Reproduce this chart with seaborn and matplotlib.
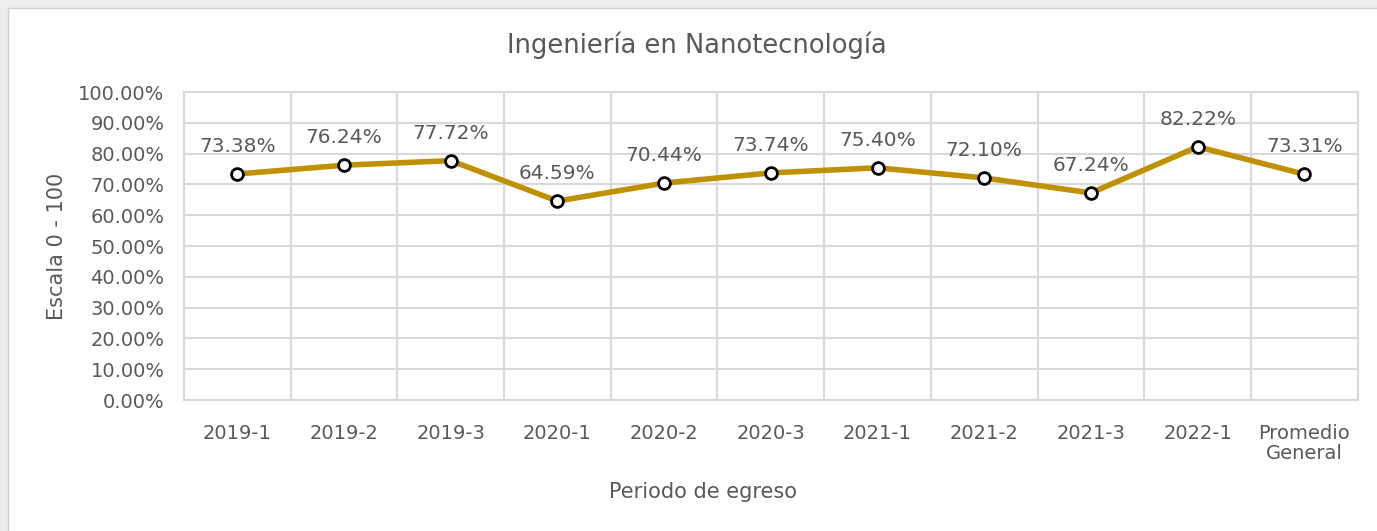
import numpy as np
import pandas as pd
import seaborn as sns
import matplotlib.pyplot as plt
from matplotlib.ticker import PercentFormatter, MultipleLocator
from matplotlib.patches import Rectangle

# datos
periodos = ['2019-1', '2019-2', '2019-3', '2020-1', '2020-2', '2020-3',
            '2021-1', '2021-2', '2021-3', '2022-1', 'Promedio\nGeneral']
valores = [0.7338, 0.7624, 0.7772, 0.6459, 0.7044, 0.7374,
           0.7540, 0.7210, 0.6724, 0.8222, 0.7331]

df = pd.DataFrame({'Periodo': periodos, 'Valor': valores})

sns.set_style('white')
plt.rcParams['font.family'] = ['DejaVu Sans']
gris = '#595959'
rejilla = '#d9d9d9'

fig, ax = plt.subplots(figsize=(13.77, 5.31), dpi=100)
fig.subplots_adjust(left=0.1336, right=0.986, top=0.8267, bottom=0.2467)

sns.lineplot(data=df, x='Periodo', y='Valor', sort=False, color='#BF9000',
             linewidth=4, marker='o', markersize=8.5, markerfacecolor='white',
             markeredgecolor='black', markeredgewidth=2, ax=ax, zorder=3)

# etiquetas de datos
for i, v in enumerate(df['Valor']):
    ax.annotate(f'{v*100:.2f}%', (i, v), xytext=(0, 13), textcoords='offset points',
                ha='center', va='bottom', fontsize=14.5, color=gris)

ax.set_xlim(-0.5, len(periodos) - 0.5)
ax.set_ylim(0, 1)
ax.yaxis.set_major_locator(MultipleLocator(0.1))
ax.yaxis.set_major_formatter(PercentFormatter(1, decimals=2))
ax.set_xticks(range(len(periodos)))
ax.set_xticklabels(periodos, linespacing=1.1)
ax.set_xticks(np.arange(-0.5, len(periodos), 1), minor=True)

ax.grid(axis='y', which='major', color=rejilla, linewidth=1.5)
ax.grid(axis='x', which='minor', color=rejilla, linewidth=1.5)
ax.set_axisbelow(True)
for s in ax.spines.values():
    s.set_color(rejilla)
    s.set_linewidth(1.5)

ax.tick_params(axis='both', which='both', length=0, labelsize=14, labelcolor=gris)
ax.tick_params(axis='x', pad=17)
ax.tick_params(axis='y', pad=14)

# titulo y etiqueta x van centrados en la figura, no en el eje
fig.text(697/1377, 1 - 45/531, 'Ingeniería en Nanotecnología', fontsize=18.5,
         color=gris, ha='center', va='center')
ax.set_xlabel('Periodo de egreso', fontsize=15, color=gris)
ax.xaxis.set_label_coords((703 - 184) / 1174, (400 - 492) / 308)
ax.get_xaxis().label.set_va('center')
ax.set_ylabel('Escala 0 - 100', fontsize=15, color=gris, labelpad=8)

# marco exterior gris de la captura
fig.patches.append(Rectangle((0, 1 - 8/531), 1, 8/531, transform=fig.transFigure,
                             facecolor='#eeeeee', edgecolor='none', zorder=-1))
fig.patches.append(Rectangle((0, 0), 8/1377, 1, transform=fig.transFigure,
                             facecolor='#eeeeee', edgecolor='none', zorder=-1))
fig.patches.append(Rectangle((8/1377, -0.01), 1, 1 - 8/531 + 0.01, transform=fig.transFigure,
                             facecolor='none', edgecolor='#d0d0d0', linewidth=1, zorder=-1))

fig.savefig('out.png', dpi=100)
